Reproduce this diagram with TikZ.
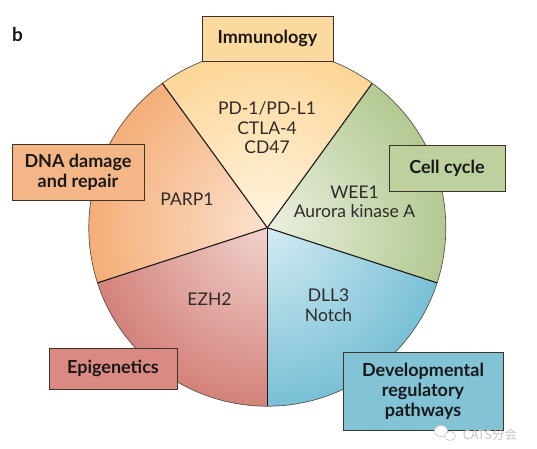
\documentclass[tikz,border=0pt]{standalone}
\usepackage{fontspec}
\setmainfont{Lato}
\newfontfamily\cjkfont{Noto Sans CJK SC}
\definecolor{immI}{HTML}{FFF4E0}
\definecolor{immO}{HTML}{FDD697}
\definecolor{dnaI}{HTML}{FCE2CF}
\definecolor{dnaO}{HTML}{F4AE78}
\definecolor{cellI}{HTML}{EBF0E0}
\definecolor{cellO}{HTML}{B3C992}
\definecolor{epiI}{HTML}{F1D2CD}
\definecolor{epiO}{HTML}{D4827B}
\definecolor{devI}{HTML}{D4EBF3}
\definecolor{devO}{HTML}{78C0D6}
\definecolor{immB}{HTML}{FCD99E}
\definecolor{dnaB}{HTML}{F4B686}
\definecolor{cellB}{HTML}{BDD09E}
\definecolor{epiB}{HTML}{DA8A82}
\definecolor{devB}{HTML}{82C3D6}
\definecolor{inktext}{HTML}{2E2A28}
\definecolor{boxline}{HTML}{3E3328}
\tikzset{
  catbox/.style={draw=boxline, line width=0.9pt, text=black!90, inner sep=0pt,
    font=\fontsize{18}{20}\selectfont\bfseries, align=center},
  inlabel/.style={text=inktext, align=center, font=\fontsize{17.5}{19.8}\selectfont},
  divider/.style={line width=1.1pt, draw=black!90},
}
\begin{document}
\begin{tikzpicture}[x=1pt,y=1pt]
\useasboundingbox (0,0) rectangle (537,448);
\fill[white] (0,0) rectangle (537,448);
\def\R{178.5}
\coordinate (C) at (267.3,220.3);
% sectors with radial gradient
\foreach \a/\b/\ci/\co in {54/126/immI/immO, 126/198/dnaI/dnaO, 198/270/epiI/epiO, 270/342/devI/devO, -18/54/cellI/cellO}{
  \begin{scope}
    \clip (C) -- ++(\a:\R) arc[start angle=\a, end angle=\b, radius=\R] -- cycle;
    \shade[inner color=\ci, outer color=\co] (C) circle[radius=\R];
  \end{scope}
}
\draw[line width=0.7pt, draw=boxline!85] (C) circle[radius=\R];
\foreach \a in {54,126,198,270,342}{
  \draw[divider] (C) -- ++(\a:\R);
}
% inner labels
\node[inlabel] (imm) at (267,320.3) {PD-1/PD-L1\\CTLA-4\\CD47};
\node[inlabel] (parp) at (187,248.7) {PARP1};
\node[inlabel] (wee) at (354.5,246.2) {WEE1\\Aurora kinase A};
\node[inlabel] (ezh) at (209.5,148.7) {EZH2};
\node[inlabel] (dll) at (328.5,143) {DLL3\\Notch};
% category boxes
\node[catbox, fill=immB, minimum width=131pt, minimum height=45pt] (immbox) at (267.5,409.5) {Immunology};
\node[catbox, fill=dnaB, minimum width=132pt, minimum height=56pt] (dnabox) at (78,276) {DNA damage\\and repair};
\node[catbox, fill=cellB, minimum width=116pt, minimum height=46pt] (cellbox) at (447,280) {Cell cycle};
\node[catbox, fill=epiB, minimum width=128pt, minimum height=41pt] (epibox) at (113,79.5) {Epigenetics};
\node[catbox, fill=devB, minimum width=160pt, minimum height=78pt] (devbox) at (423,57) {Developmental\\regulatory\\pathways};
% panel letter
\node[font=\fontsize{19}{20}\selectfont\bfseries, text=black!90] (panel) at (17.5,413) {b};
% watermark
\fill[white, draw=gray!45, line width=0.6pt] (441,17) ellipse[x radius=6.5pt, y radius=5.5pt];
\fill[white, draw=gray!45, line width=0.6pt] (450,12) ellipse[x radius=5.5pt, y radius=4.5pt];
\node[font=\cjkfont\fontsize{12.5}{14}\selectfont, text=gray!45] (wm) at (490,13) {CATS分会};
\end{tikzpicture}
\end{document}
